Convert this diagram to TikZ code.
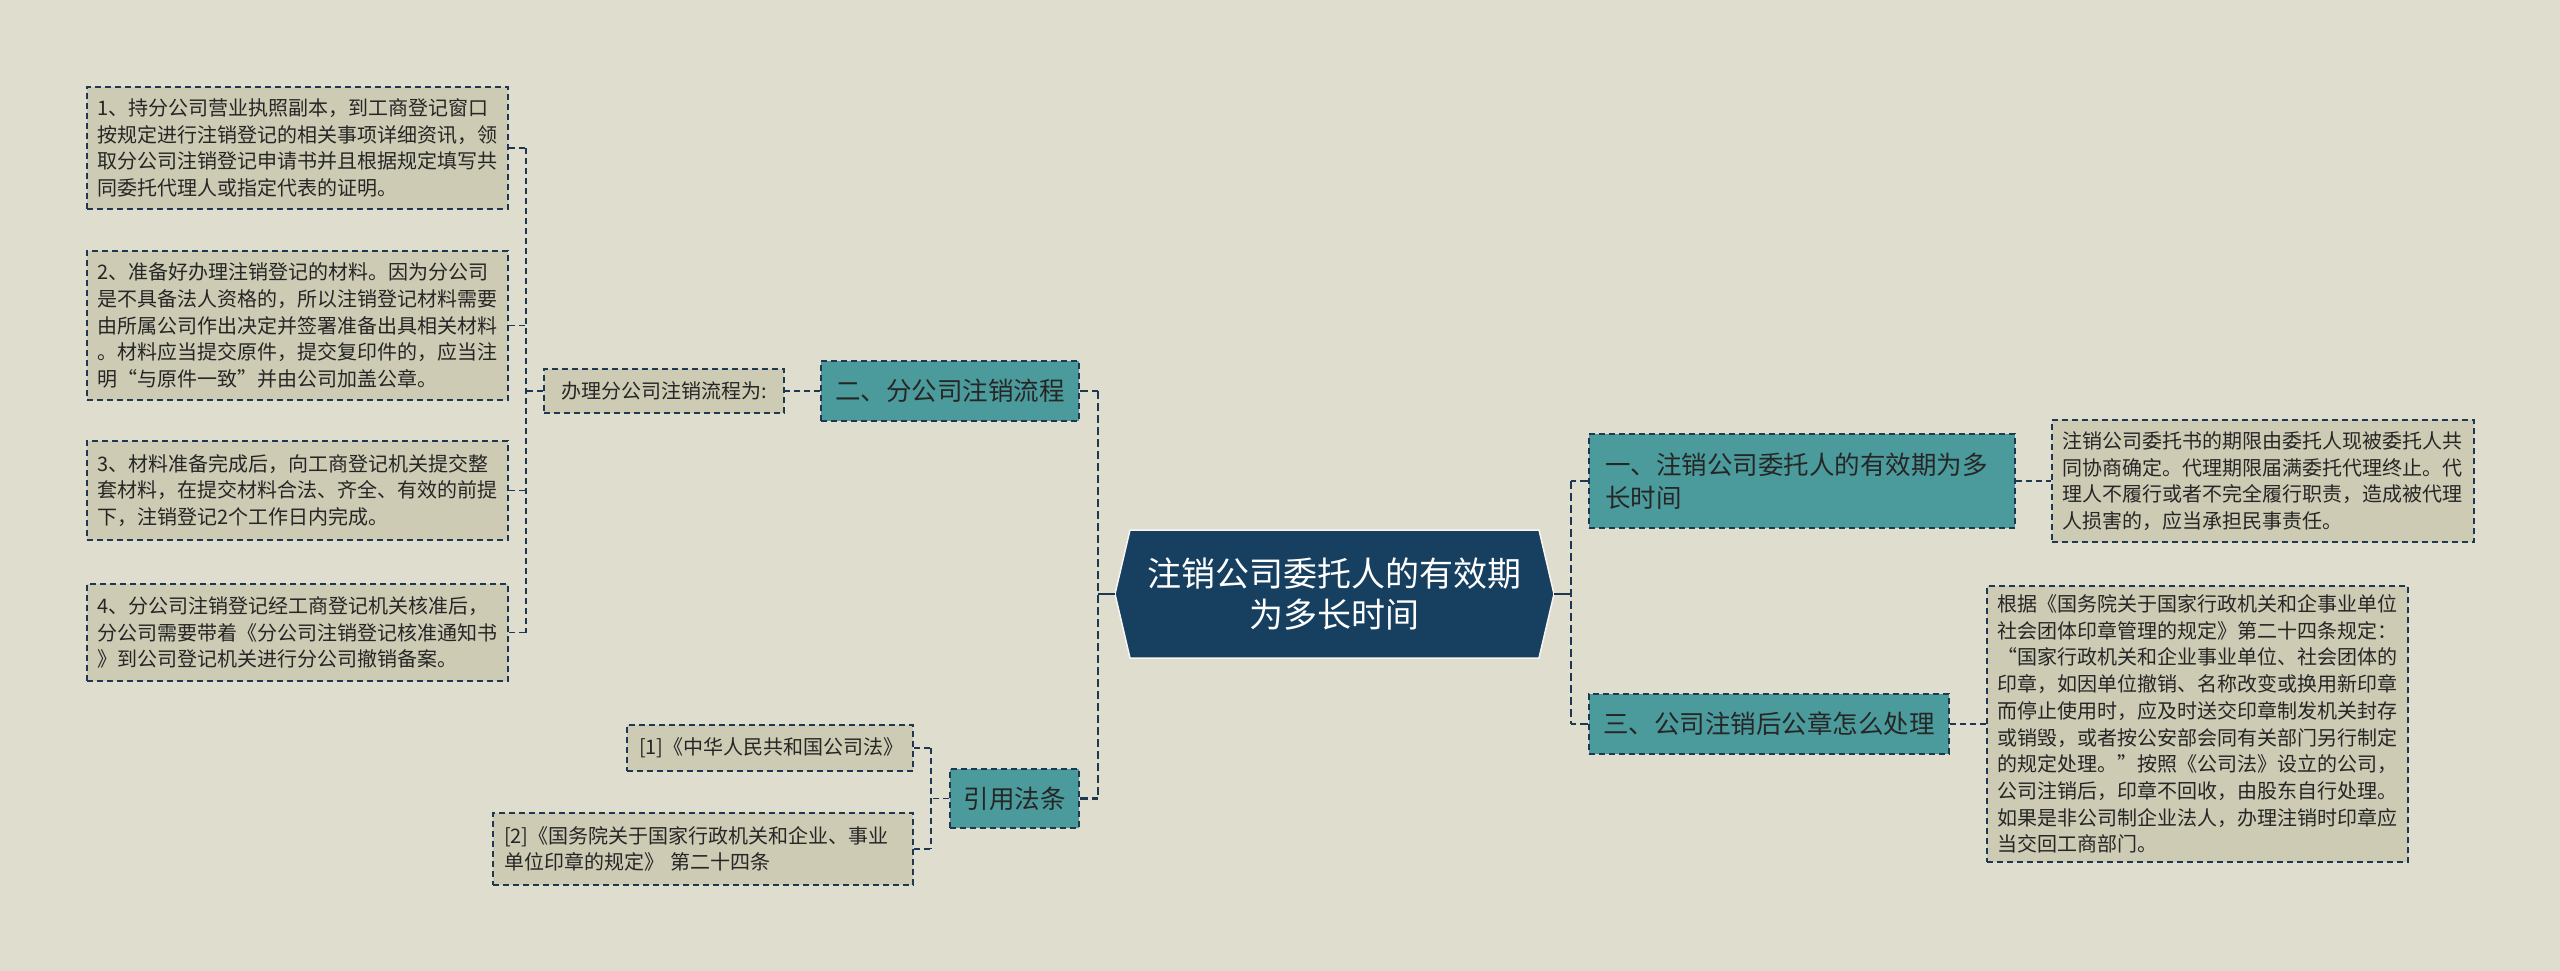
\documentclass[tikz,border=0pt]{standalone}
\usepackage{fontspec}
\setmainfont{Noto Sans CJK SC}
\usetikzlibrary{calc}
\definecolor{bg}{HTML}{DFDDCE}
\definecolor{leaffill}{HTML}{CDCBB4}
\definecolor{tealfill}{HTML}{4C9B9C}
\definecolor{navy}{HTML}{173F5F}
\definecolor{linec}{HTML}{1E3852}
\definecolor{txt}{HTML}{262626}
\tikzset{
  leaf/.style={draw=linec, line width=1.5pt, dash pattern=on 6pt off 4pt, fill=leaffill, text=txt,
    font=\fontsize{20}{26.7}\selectfont, align=left, inner xsep=10pt, inner ysep=0pt},
  branch/.style={draw=linec, line width=1.5pt, dash pattern=on 6pt off 4pt, fill=tealfill, text=txt,
    font=\fontsize{25.5}{33}\selectfont, inner xsep=0pt, inner ysep=0pt},
  rootnode/.style={text=white, font=\fontsize{34}{41}\selectfont, align=center, inner sep=0pt,
    minimum width=439pt, minimum height=128pt},
  conn/.style={draw=linec, line width=1.5pt, dash pattern=on 6pt off 4pt},
  mainconn/.style={draw=linec, line width=2.6pt, dash pattern=on 8pt off 4pt},
  rootconn/.style={draw=linec, line width=2.6pt},
}
\begin{document}
\begin{tikzpicture}[x=1pt,y=-1pt]
\useasboundingbox (0,0) rectangle (2560,971);
\fill[bg] (0,0) rectangle (2560,971);

% root hexagon
\filldraw[fill=navy, draw=white!75!bg, line width=1.5pt]
  (1130,530) -- (1539,530) -- (1554,594) -- (1539,658) -- (1130,658) -- (1115,594) -- cycle;
\node[rootnode] (root) at (1334.5,594) {注销公司委托人的有效期\\为多长时间};

% branches
\node[branch, minimum width=258pt, minimum height=60pt] (b2) at (950,391) {二、分公司注销流程};
\node[branch, minimum width=129pt, minimum height=59pt] (b4) at (1014.5,798.5) {引用法条};
\node[branch, minimum width=426pt, minimum height=94pt, text width=394pt, align=left, inner xsep=16pt] (b1) at (1802,481) {一、注销公司委托人的有效期为多\\长时间};
\node[branch, minimum width=360pt, minimum height=60pt] (b3) at (1769,724) {三、公司注销后公章怎么处理};

% left side
\node[leaf, minimum width=240pt, minimum height=44pt, inner xsep=0pt] (mid) at (664,391) {办理分公司注销流程为:};
\node[leaf, text width=401pt, minimum height=122pt] (L1) at (297.5,148) {1、持分公司营业执照副本，到工商登记窗口\\按规定进行注销登记的相关事项详细资讯，领\\取分公司注销登记申请书并且根据规定填写共\\同委托代理人或指定代表的证明。};
\node[leaf, text width=401pt, minimum height=149pt] (L2) at (297.5,325.5) {2、准备好办理注销登记的材料。因为分公司\\是不具备法人资格的，所以注销登记材料需要\\由所属公司作出决定并签署准备出具相关材料\\。材料应当提交原件，提交复印件的，应当注\\明“与原件一致”并由公司加盖公章。};
\node[leaf, text width=401pt, minimum height=99pt] (L3) at (297.5,490.5) {3、材料准备完成后，向工商登记机关提交整\\套材料，在提交材料合法、齐全、有效的前提\\下，注销登记2个工作日内完成。};
\node[leaf, text width=401pt, minimum height=97pt] (L4) at (297.5,632.5) {4、分公司注销登记经工商登记机关核准后，\\分公司需要带着《分公司注销登记核准通知书\\》到公司登记机关进行分公司撤销备案。};

% citations
\node[leaf, text width=262pt, inner xsep=12pt, minimum height=46pt] (c1) at (770,748) {[1]《中华人民共和国公司法》};
\node[leaf, text width=398pt, inner xsep=11pt, minimum height=72pt] (c2) at (703,849) {[2]《国务院关于国家行政机关和企业、事业\\单位印章的规定》 第二十四条};

% right leaves
\node[leaf, text width=402pt, minimum height=122pt] (R1) at (2263,481) {注销公司委托书的期限由委托人现被委托人共\\同协商确定。代理期限届满委托代理终止。代\\理人不履行或者不完全履行职责，造成被代理\\人损害的，应当承担民事责任。};
\node[leaf, text width=401pt, minimum height=276pt] (R2) at (2197.5,724) {根据《国务院关于国家行政机关和企事业单位\\社会团体印章管理的规定》第二十四条规定：\\“国家行政机关和企业事业单位、社会团体的\\印章，如因单位撤销、名称改变或换用新印章\\而停止使用时，应及时送交印章制发机关封存\\或销毁，或者按公安部会同有关部门另行制定\\的规定处理。”按照《公司法》设立的公司，\\公司注销后，印章不回收，由股东自行处理。\\如果是非公司制企业法人，办理注销时印章应\\当交回工商部门。};

% junction coordinates
\coordinate (cl) at (1098,594);
\coordinate (cr) at (1571,594);
\coordinate (lv) at (526,391);
\coordinate (cv) at (931,798.5);

% root connectors
\draw[rootconn] (root.west) -- (cl);
\draw[rootconn] (root.east) -- (cr);
\draw[mainconn] (b2.east -| cl) -- (b4.east -| cl);
\draw[mainconn] (b2.east) -- (b2.east -| cl);
\draw[mainconn] (b4.east) -- (b4.east -| cl);
\draw[mainconn] (b1.west -| cr) -- (b3.west -| cr);
\draw[mainconn] (b1.west) -- (b1.west -| cr);
\draw[mainconn] (b3.west) -- (b3.west -| cr);

% branch connectors
\draw[conn] (b2.west) -- (mid.east);
\draw[conn] (mid.west) -- (lv);
\draw[conn] (L1.east -| lv) -- (L4.east -| lv);
\foreach \n in {L1,L2,L3,L4} { \draw[conn] (\n.east) -- (\n.east -| lv); }
\draw[conn] (b4.west) -- (cv);
\draw[conn] (c1.east -| cv) -- (c2.east -| cv);
\draw[conn] (c1.east) -- (c1.east -| cv);
\draw[conn] (c2.east) -- (c2.east -| cv);
\draw[conn] (b1.east) -- (R1.west);
\draw[conn] (b3.east) -- (R2.west);
\end{tikzpicture}
\end{document}
